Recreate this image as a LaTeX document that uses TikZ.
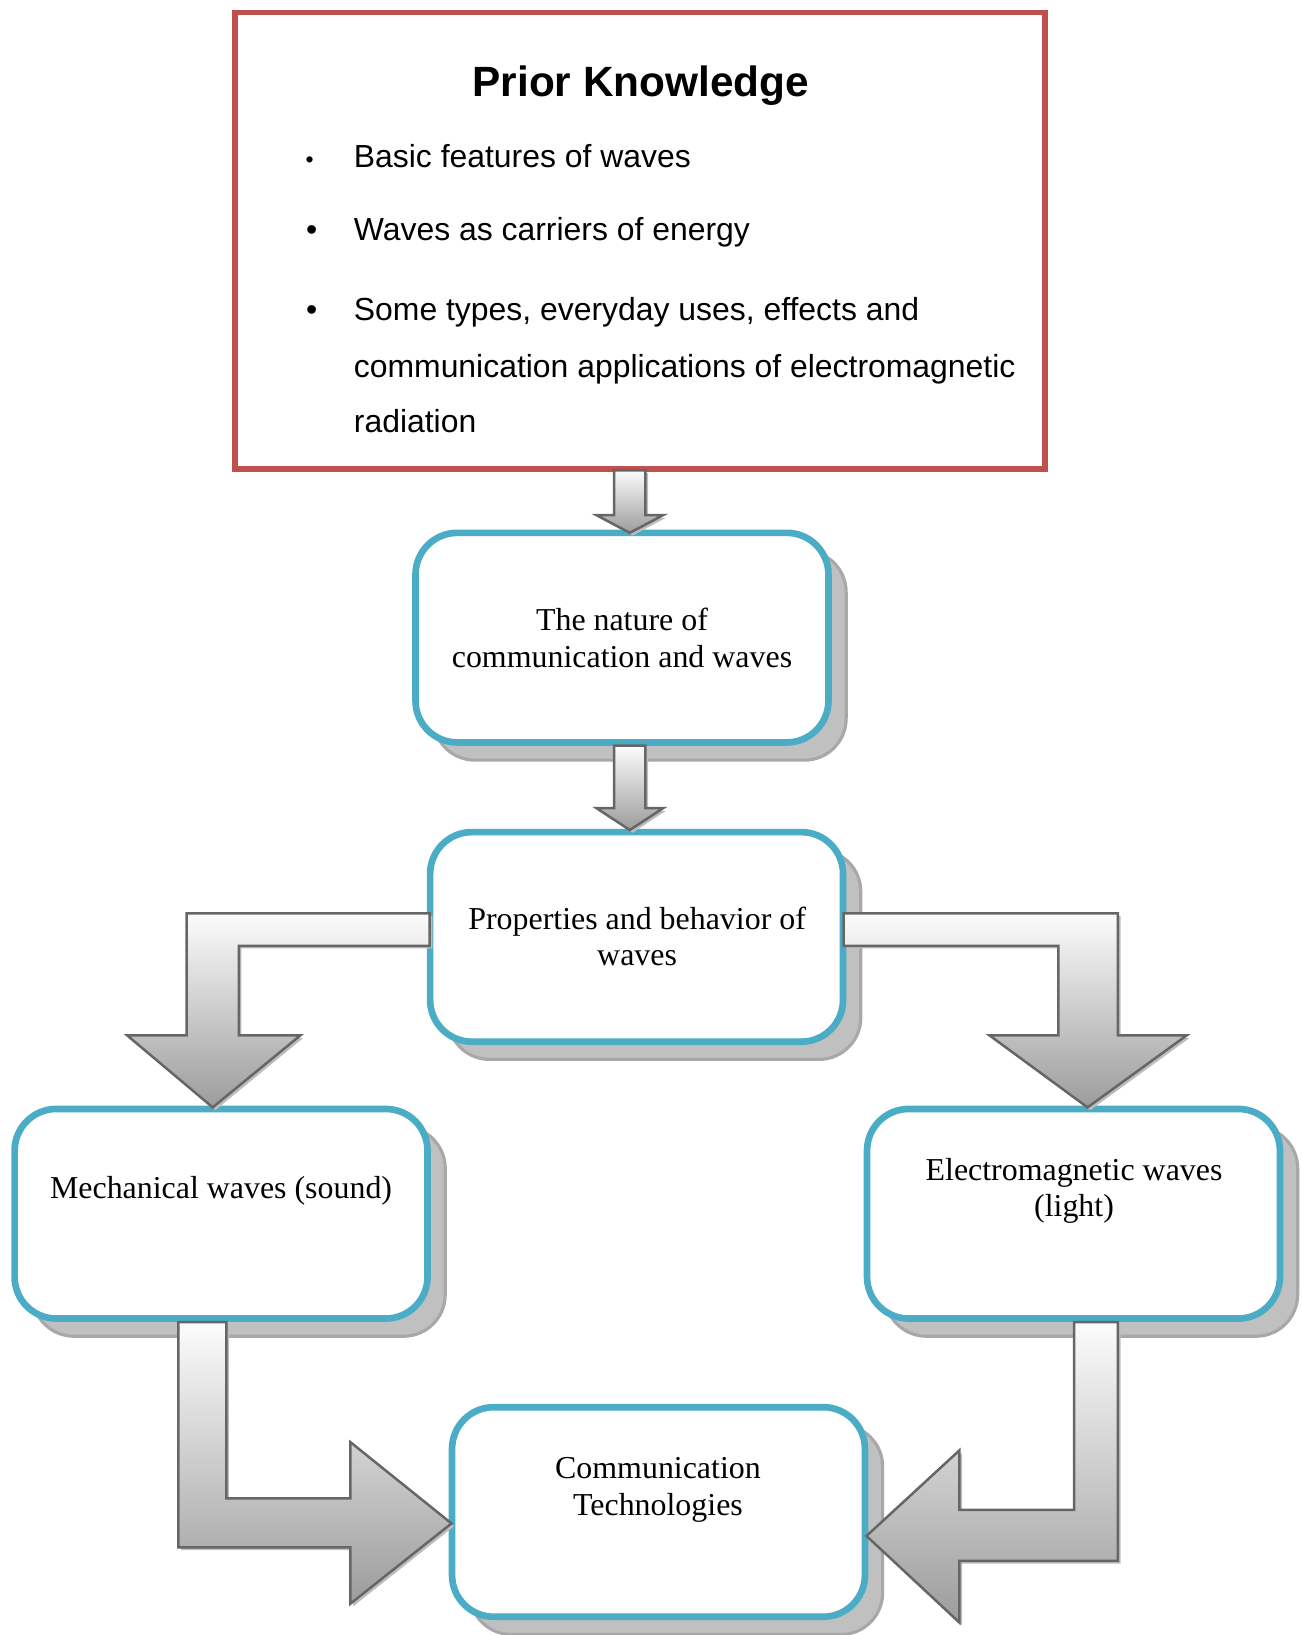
\documentclass[tikz,border=0pt]{standalone}
\usepackage{fontspec}
\setmainfont{Liberation Serif}
\newfontfamily\arialf{Liberation Sans}
\usetikzlibrary{shadows}
\definecolor{pkred}{HTML}{C0504D}
\definecolor{boxblue}{HTML}{4BACC6}
\definecolor{shadowgray}{HTML}{C0C0C0}
\definecolor{shadowedge}{HTML}{A8A8A8}
\definecolor{arrowedge}{HTML}{666666}
\definecolor{arrowshadow}{HTML}{BDBDBD}
\definecolor{arrowtop}{HTML}{FCFCFC}
\definecolor{arrowbottom}{HTML}{9C9C9C}
\begin{document}
\begin{tikzpicture}[x=0.5pt,y=-0.5pt,
  topicbox/.style={draw=boxblue, line width=3.2pt, fill=white, rounded corners=20pt,
    minimum width=198pt, minimum height=100.5pt, inner sep=0pt,
    copy shadow={shadow xshift=8.5pt, shadow yshift=-8.5pt, draw=shadowedge, fill=shadowgray, line width=1.5pt}},
  boxtext/.style={font=\fontsize{15.3}{17.5}\selectfont, align=center, anchor=base, inner sep=0pt},
  itemtext/.style={font=\arialf\fontsize{15.3}{18}\selectfont, anchor=base west, inner sep=0pt},
  bulletmark/.style={font=\arialf\fontsize{#1}{18}\selectfont, anchor=base, inner sep=0pt},
  blockarrow/.style={draw=arrowedge, line width=1.2pt, line join=miter,
    top color=arrowtop, bottom color=arrowbottom,
    preaction={fill=arrowshadow, transform canvas={shift={(1.3pt,-1.3pt)}}}}
]
\useasboundingbox (0,0) rectangle (1248,1568);

% Prior knowledge box
\node[draw=pkred, line width=2.8pt, minimum width=388.5pt, minimum height=219pt, inner sep=0pt] (pk) at (614,231) {};
\node[font=\arialf\fontsize{20.3}{24}\selectfont\bfseries, anchor=base, inner sep=0pt] (pktitle) at (614.5,93) {Prior Knowledge};
\node[bulletmark=11] (b1) at (297,161) {•};
\node[bulletmark=15.3] (b2) at (299,231) {•};
\node[bulletmark=15.3] (b3) at (299,307) {•};
\node[itemtext] (i1) at (339,161) {Basic features of waves};
\node[itemtext] (i2) at (339,231) {Waves as carriers of energy};
\node[itemtext] (i3a) at (339,307) {Some types, everyday uses, effects and};
\node[itemtext] (i3b) at (339,362) {communication applications of electromagnetic};
\node[itemtext] (i3c) at (339,415) {radiation};

% topic boxes
\node[topicbox] (n1) at (596.5,611.5) {};
\node[topicbox] (n2) at (610.5,898.5) {};
\node[topicbox] (n3) at (212,1164) {};
\node[topicbox] (n4) at (1029.5,1164) {};
\node[topicbox] (n5) at (631.5,1450) {};

\node[boxtext] (t1) at (596.5,640) {The nature of\\communication and waves};
\node[boxtext] (t2) at (611,926) {Properties and behavior of\\waves};
\node[boxtext] (t3) at (212,1149) {Mechanical waves (sound)};
\node[boxtext] (t4) at (1030,1167) {Electromagnetic waves\\(light)};
\node[boxtext] (t5) at (631,1453) {Communication\\Technologies};

% block arrows
\path[blockarrow] (589,451) -- (619,451) -- (619,494) -- (636,494) -- (604,511) -- (572,494) -- (589,494) -- cycle;
\path[blockarrow] (589,715) -- (619,715) -- (619,775) -- (636,775) -- (604,796) -- (572,775) -- (589,775) -- cycle;
\path[blockarrow] (412,876) -- (179,876) -- (179,993) -- (122,993) -- (204,1062) -- (288,993) -- (229,993) -- (229,907) -- (412,907) -- cycle;
\path[blockarrow] (809,876) -- (1072,876) -- (1072,993) -- (1138,993) -- (1043,1062) -- (949,993) -- (1015,993) -- (1015,907) -- (809,907) -- cycle;
\path[blockarrow] (171,1268) -- (217,1268) -- (217,1437) -- (336,1437) -- (336,1383) -- (433,1461) -- (336,1538) -- (336,1484) -- (171,1484) -- cycle;
\path[blockarrow] (1072,1268) -- (1030,1268) -- (1030,1448) -- (920,1448) -- (920,1391) -- (831,1473) -- (920,1556) -- (920,1497) -- (1072,1497) -- cycle;
\end{tikzpicture}
\end{document}
